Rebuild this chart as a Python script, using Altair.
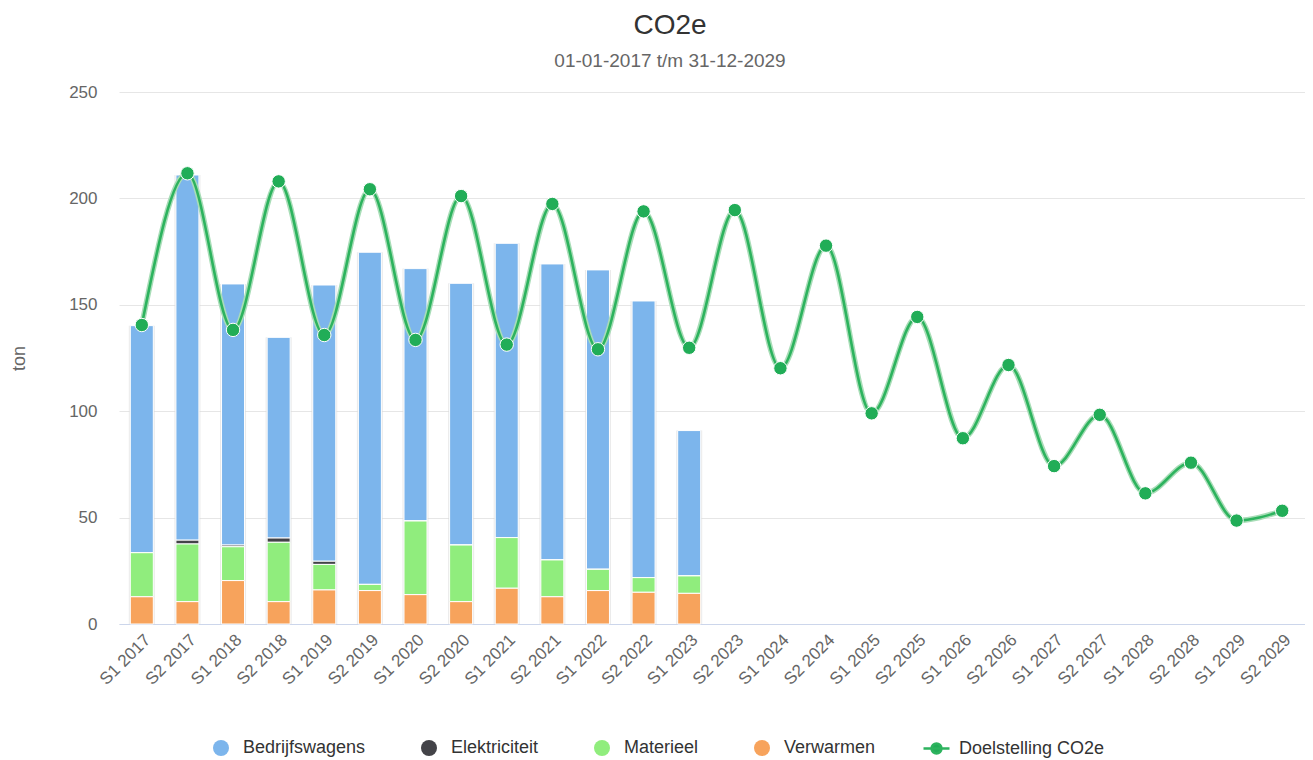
import altair as alt
import pandas as pd

categories = [
    "S1 2017", "S2 2017", "S1 2018", "S2 2018", "S1 2019", "S2 2019",
    "S1 2020", "S2 2020", "S1 2021", "S2 2021", "S1 2022", "S2 2022",
    "S1 2023", "S2 2023", "S1 2024", "S2 2024", "S1 2025", "S2 2025",
    "S1 2026", "S2 2026", "S1 2027", "S2 2027", "S1 2028", "S2 2028",
    "S1 2029", "S2 2029",
]
bar_categories = categories[:13]

bedrijfswagens = [106.7, 171.6, 122.7, 94.3, 129.8, 156.1, 118.6, 123.0, 138.3, 139.1, 140.7, 130.0, 68.3]
elektriciteit = [0.0, 1.8, 0.8, 2.0, 1.5, 0.0, 0.0, 0.0, 0.0, 0.0, 0.0, 0.0, 0.0]
materieel = [20.7, 27.1, 15.9, 27.9, 12.0, 2.9, 34.6, 26.6, 23.8, 17.3, 10.0, 6.9, 8.2]
verwarmen = [12.8, 10.5, 20.4, 10.5, 16.0, 15.7, 13.8, 10.5, 16.8, 12.8, 15.7, 14.9, 14.4]

doelstelling = [140.5, 211.8, 138.2, 208.0, 135.8, 204.3, 133.5, 201.1, 131.3, 197.4,
                129.1, 193.9, 129.8, 194.5, 120.2, 177.8, 99.0, 144.3, 87.3, 121.7,
                74.2, 98.3, 61.4, 75.8, 48.6, 53.2]

series_names = ["Bedrijfswagens", "Elektriciteit", "Materieel", "Verwarmen"]
series_colors = ["#7cb5ec", "#434348", "#90ed7d", "#f7a35c"]
stack_rank = {"Verwarmen": 0, "Materieel": 1, "Elektriciteit": 2, "Bedrijfswagens": 3}
line_name = "Doelstelling CO2e"
line_color = "#2db35e"
point_color = "#21ad57"

rows = []
for name, vals in zip(series_names, [bedrijfswagens, elektriciteit, materieel, verwarmen]):
    for c, v in zip(bar_categories, vals):
        rows.append({"periode": c, "bron": name, "waarde": v, "volgorde": stack_rank[name]})
bars_df = pd.DataFrame(rows)

totals_df = pd.DataFrame({
    "periode": bar_categories,
    "waarde": [a + b + c + d for a, b, c, d in zip(bedrijfswagens, elektriciteit, materieel, verwarmen)],
})
line_df = pd.DataFrame({"periode": categories, "bron": line_name, "waarde": doelstelling})

FONT = "Liberation Sans"

x_enc = alt.X(
    "periode:N",
    sort=categories,
    scale=alt.Scale(domain=categories, paddingInner=0, paddingOuter=0),
    axis=alt.Axis(
        title=None, labelAngle=-45, labelAlign="right", labelBaseline="middle",
        labelFontSize=17, labelColor="#666666", labelFont=FONT, labelPadding=13,
        labelOffset=6, ticks=False, grid=False, domainColor="#ccd6eb", domainWidth=1,
    ),
)


def y_enc(field, stack=None):
    kw = {}
    if stack is not None:
        kw["stack"] = stack
    return alt.Y(
        field,
        scale=alt.Scale(domain=[0, 250], nice=False),
        axis=alt.Axis(
            title="ton", values=[0, 50, 100, 150, 200, 250], labelFontSize=17,
            labelColor="#666666", labelFont=FONT, labelPadding=22, ticks=False,
            domain=False, gridColor="#e6e6e6", gridWidth=1, titleFont=FONT,
            titleFontSize=18, titleFontWeight="normal", titleColor="#666666",
            titlePadding=40,
        ),
        **kw,
    )


shadow = alt.Chart(totals_df).mark_bar(width=26, color="#d9d9d9", opacity=0.55).encode(
    x=x_enc, y=y_enc("waarde:Q"),
)

bars = alt.Chart(bars_df).mark_bar(width=23, stroke="white", strokeWidth=1).encode(
    x=x_enc,
    y=y_enc("waarde:Q", stack="zero"),
    color=alt.Color(
        "bron:N",
        scale=alt.Scale(domain=series_names, range=series_colors),
        legend=alt.Legend(
            title=None, orient="none", direction="horizontal", legendX=93, legendY=647,
            symbolType="circle", symbolSize=256, symbolStrokeWidth=0,
            labelFontSize=18, labelFont=FONT, labelColor="#333333",
            labelOffset=13, columnPadding=54,
        ),
    ),
    order=alt.Order("volgorde:Q", sort="ascending"),
)

halo = alt.Chart(line_df).mark_line(interpolate="monotone", strokeWidth=5.5, color="#a8ddb7").encode(
    x=x_enc, y=y_enc("waarde:Q"),
)

core = alt.Chart(line_df).mark_line(interpolate="monotone", strokeWidth=2.6).encode(
    x=x_enc,
    y=y_enc("waarde:Q"),
    color=alt.Color(
        "bron:N",
        scale=alt.Scale(domain=[line_name], range=[line_color]),
        legend=alt.Legend(
            title=None, orient="none", direction="horizontal", legendX=803, legendY=642,
            symbolType="M-1,0L1,0M-0.38,0A0.38,0.38,0,1,1,0.38,0A0.38,0.38,0,1,1,-0.38,0",
            symbolSize=676, symbolStrokeWidth=2.5, symbolFillColor=point_color,
            labelFontSize=18, labelFont=FONT, labelColor="#333333", labelOffset=8,
        ),
    ),
)

points = alt.Chart(line_df).mark_point(
    filled=True, shape="circle", size=180, color=point_color, stroke="white",
    strokeWidth=1, opacity=1,
).encode(x=x_enc, y=y_enc("waarde:Q"))

chart = alt.layer(shadow, bars, halo, core, points).resolve_scale(color="independent").properties(
    width=1186,
    height=532,
    padding={"left": 111, "top": 84, "right": 0, "bottom": 136},
    autosize="none",
    title=alt.TitleParams(
        text="CO2e", subtitle="01-01-2017 t/m 31-12-2029", font=FONT, subtitleFont=FONT,
        fontSize=28, subtitleFontSize=19, fontWeight="normal", color="#333333",
        subtitleColor="#666666", anchor="middle", dx=-42, offset=12, subtitlePadding=12,
    ),
).configure_view(stroke=None)

chart.save("out.html", embed_options={"renderer": "svg", "actions": False})
